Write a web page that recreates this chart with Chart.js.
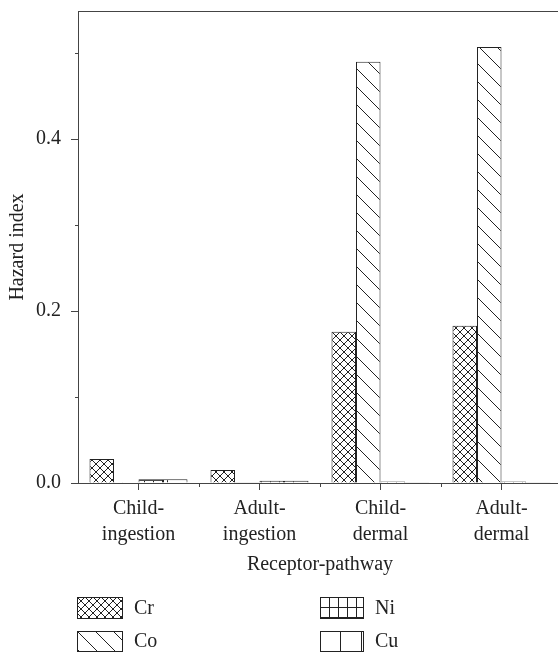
<!DOCTYPE html>
<html><head><meta charset="utf-8">
<script src="https://cdn.jsdelivr.net/npm/chart.js@4"></script>
<style>html,body{margin:0;padding:0;background:#fff;overflow:hidden;} #wrap{width:566px;height:652px;position:relative;}</style>
</head><body><div id="wrap"><canvas id="c"></canvas></div>
<script>
const categories = [['Child-','ingestion'],['Adult-','ingestion'],['Child-','dermal'],['Adult-','dermal']];
const seriesNames = ['Cr','Co','Ni','Cu'];
const crValues = [0.028, 0.015, 0.176, 0.183];
const coValues = [0.001, 0.0004, 0.490, 0.507];
const niValues = [0.0045, 0.0025, 0.0018, 0.0018];
const cuValues = [0.0045, 0.0025, 0.0008, 0.0008];
const yTicks = [0, 0.2, 0.4];
const yMinorTicks = [0.1, 0.3, 0.5];
const yMax = 0.549;

const INK = '#222';
const FONT = 'Liberation Serif, Times New Roman, serif';

function makePattern(kind){
  const c = document.createElement('canvas');
  let w = 8, h = 8;
  if (kind === 'back') { w = 18; h = 18; }
  if (kind === 'grid') { w = 9; h = 10; }
  if (kind === 'vert') { w = 21; h = 10; }
  c.width = w; c.height = h;
  const g = c.getContext('2d');
  g.fillStyle = '#fff'; g.fillRect(0,0,w,h);
  g.strokeStyle = INK; g.lineWidth = 1;
  g.beginPath();
  if (kind === 'cross') {
    for (const k of [-8,0,8]) { g.moveTo(k,0); g.lineTo(k+8,8); g.moveTo(k+8,0); g.lineTo(k,8); }
  } else if (kind === 'back') {
    for (const k of [-18,0,18]) { g.moveTo(k,0); g.lineTo(k+18,18); }
  } else if (kind === 'grid') {
    g.moveTo(0.5,0); g.lineTo(0.5,h); g.moveTo(0,0.5); g.lineTo(w,0.5);
  } else if (kind === 'vert') {
    g.moveTo(20.5,0); g.lineTo(20.5,h);
  }
  g.stroke();
  return document.getElementById('c').getContext('2d').createPattern(c,'repeat');
}
const patterns = [makePattern('cross'), makePattern('back'), makePattern('grid'), makePattern('vert')];
const seriesValues = [crValues, coValues, niValues, cuValues];

const extras = {
  id: 'extras',
  afterDraw(chart){
    const ctx = chart.ctx;
    const a = chart.chartArea;
    const ys = chart.scales.y, xs = chart.scales.x;
    ctx.save();
    ctx.strokeStyle = '#444'; ctx.lineWidth = 1;
    // top frame line
    ctx.beginPath(); ctx.moveTo(a.left, a.top + 0.5); ctx.lineTo(chart.width, a.top + 0.5); ctx.stroke();
    // y minor ticks
    ctx.beginPath();
    yMinorTicks.forEach(v => { const p = Math.round(ys.getPixelForValue(v)) + 0.5; ctx.moveTo(a.left - 3, p); ctx.lineTo(a.left, p); });
    // x minor ticks at category boundaries
    for (let i = 1; i < categories.length; i++) {
      const p = Math.round((xs.getPixelForValue(i - 1) + xs.getPixelForValue(i)) / 2) + 0.5;
      ctx.moveTo(p, a.bottom); ctx.lineTo(p, a.bottom + 4);
    }
    ctx.stroke();
    // legend
    const boxes = [{x:77,y:597,w:45,h:21},{x:77,y:631,w:45,h:20},{x:320,y:597,w:43,h:21},{x:320,y:631,w:43,h:20}];
    ctx.font = '20px ' + FONT;
    ctx.textBaseline = 'middle';
    chart.data.datasets.forEach((ds, i) => {
      const b = boxes[i];
      const pat = patterns[i];
      pat.setTransform(new DOMMatrix().translate(b.x, b.y));
      ctx.fillStyle = pat;
      ctx.fillRect(b.x + 0.5, b.y + 0.5, b.w, b.h);
      pat.setTransform(new DOMMatrix());
      ctx.strokeStyle = INK;
      ctx.strokeRect(b.x + 0.5, b.y + 0.5, b.w, b.h);
      ctx.fillStyle = INK;
      ctx.fillText(ds.label, b.x + b.w + 12, b.y + b.h / 2 + 1);
    });
    ctx.restore();
  }
};

new Chart(document.getElementById('c'), {
  type: 'bar',
  data: {
    labels: categories,
    datasets: seriesNames.map((n, i) => ({
      label: n,
      data: seriesValues[i],
      backgroundColor: patterns[i],
      borderColor: INK,
      borderWidth: 1,
      categoryPercentage: 0.81,
      barPercentage: 1.0
    }))
  },
  options: {
    responsive: true,
    maintainAspectRatio: false,
    animation: false,
    layout: { padding: { top: 0, right: 4, bottom: 67, left: 0 } },
    plugins: { legend: { display: false }, tooltip: { enabled: false } },
    scales: {
      x: {
        afterFit(s){ s.height = 102; },
        grid: { display: true, offset: false, drawOnChartArea: false, drawTicks: true, tickLength: 7, color: '#444' },
        border: { display: true, color: '#444', width: 1 },
        ticks: { color: INK, font: { family: FONT, size: 20, lineHeight: 1.3 }, maxRotation: 0, autoSkip: false, padding: 6 },
        title: { display: true, text: 'Receptor-pathway', color: INK, font: { family: FONT, size: 20, lineHeight: 1.2 }, padding: { top: 0, bottom: 8 } }
      },
      y: {
        min: 0, max: yMax,
        afterFit(s){ s.width = 78; s.paddingTop = 11; },
        afterBuildTicks(s){ s.ticks = yTicks.map(v => ({ value: v })); },
        grid: { display: true, drawOnChartArea: false, drawTicks: true, tickLength: 7, color: '#444' },
        border: { display: true, color: '#444', width: 1 },
        ticks: { color: INK, font: { family: FONT, size: 20 }, padding: 10, callback: v => Number(v).toFixed(1) },
        title: { display: true, text: 'Hazard index', color: INK, font: { family: FONT, size: 20, lineHeight: 1.2 }, padding: { top: 6, bottom: 0 } }
      }
    }
  },
  plugins: [extras]
});
</script>
</body></html>
